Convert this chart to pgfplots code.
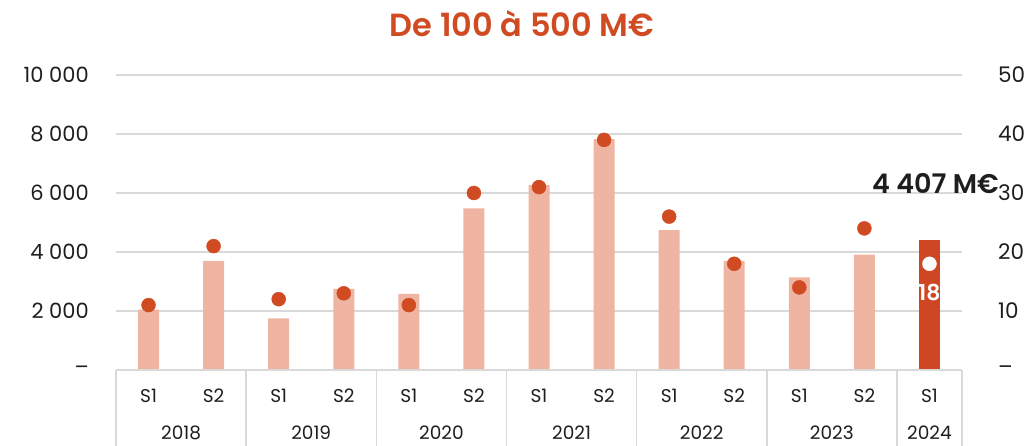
\documentclass[border=0pt]{standalone}
\usepackage{pgfplots}
\pgfplotsset{compat=1.18}
\usepackage{fontspec}
\setmainfont{Poppins}
\newfontfamily\semibold{Poppins SemiBold}
\definecolor{barlight}{RGB}{240,180,162}
\definecolor{bardark}{RGB}{207,70,34}
\definecolor{dotc}{RGB}{208,74,34}
\definecolor{gridc}{RGB}{217,217,217}
\definecolor{txt}{RGB}{30,30,30}
\begin{document}
\begin{tikzpicture}[font=\fontsize{21}{24}\selectfont]
\begin{axis}[
 at={(0pt,0pt)}, anchor=south west,
 scale only axis, width=846pt, height=295pt,
 xmin=-0.5, xmax=12.5, ymin=0, ymax=10000,
 axis line style={draw=none}, major tick length=0pt,
 ymajorgrids, grid style={gridc, line width=1.6pt},
 ytick={0,2000,4000,6000,8000,10000},
 yticklabels={{–\hspace{12pt}},2 000,4 000,6 000,8 000,10 000},
 yticklabel style={anchor=east, inner sep=0pt, xshift=-27pt, text=txt},
 scaled y ticks=false,
 xtick={0,1,2,3,4,5,6,7,8,9,10,11,12},
 xticklabels={S1,S2,S1,S2,S1,S2,S1,S2,S1,S2,S1,S2,S1},
 xticklabel style={anchor=center, inner sep=0pt, yshift=-25.5pt, text=txt, font=\fontsize{18.5}{21}\selectfont},
 extra x ticks={0.5,2.5,4.5,6.5,8.5,10.5,12},
 extra x tick labels={2018,2019,2020,2021,2022,2023,2024},
 extra x tick style={xticklabel style={yshift=-37.5pt}},
 clip=false,
 ybar, bar width=21pt,
]
\addplot[draw=none, fill=barlight, bar shift=0pt] coordinates {
 (0,2050) (1,3700) (2,1750) (3,2750) (4,2580) (5,5480) (6,6270)
 (7,7830) (8,4740) (9,3700) (10,3140) (11,3910)};
\addplot[draw=none, fill=bardark, bar shift=0pt] coordinates {(12,4407)};
\draw[gridc, line width=1.6pt] (axis cs:-0.5,0) -- (axis cs:12.5,0);
\pgfplotsinvokeforeach{-0.5,1.5,3.5,5.5,7.5,9.5,11.5,12.5}{
  \draw[gridc, line width=1.6pt] (axis cs:#1,0) -- ++(0pt,-76pt);
}
\node[font=\fontsize{27}{30}\selectfont\semibold, text=txt] at (axis cs:12,4407) [yshift=56pt, xshift=6pt] {4 407 M€};
\end{axis}
\begin{axis}[
 at={(0pt,0pt)}, anchor=south west,
 scale only axis, width=846pt, height=295pt,
 xmin=-0.5, xmax=12.5, ymin=0, ymax=50,
 axis x line=none, axis y line*=right,
 axis line style={draw=none}, major tick length=0pt,
 ytick={0,10,20,30,40,50},
 yticklabels={–,10,20,30,40,50},
 yticklabel style={anchor=west, inner sep=0pt, xshift=36pt, text=txt, font=\fontsize{21.5}{24}\selectfont},
 clip=false,
]
\addplot[only marks, mark=*, mark size=7pt, color=dotc] coordinates {
 (0,11) (1,21) (2,12) (3,13) (4,11) (5,30) (6,31) (7,39) (8,26) (9,18) (10,14) (11,24)};
\addplot[only marks, mark=*, mark size=7pt, color=white] coordinates {(12,18)};
\node[font=\fontsize{22}{24}\selectfont\semibold, text=white] at (axis cs:12,18) [yshift=-29pt] {18};
\end{axis}
\node[font=\fontsize{32}{36}\selectfont\semibold, text=dotc] at (406pt,346pt) {De 100 à 500 M€};
\pgfresetboundingbox
\path[use as bounding box] (-116pt,-76pt) rectangle (917pt,370pt);
\end{tikzpicture}
\end{document}
